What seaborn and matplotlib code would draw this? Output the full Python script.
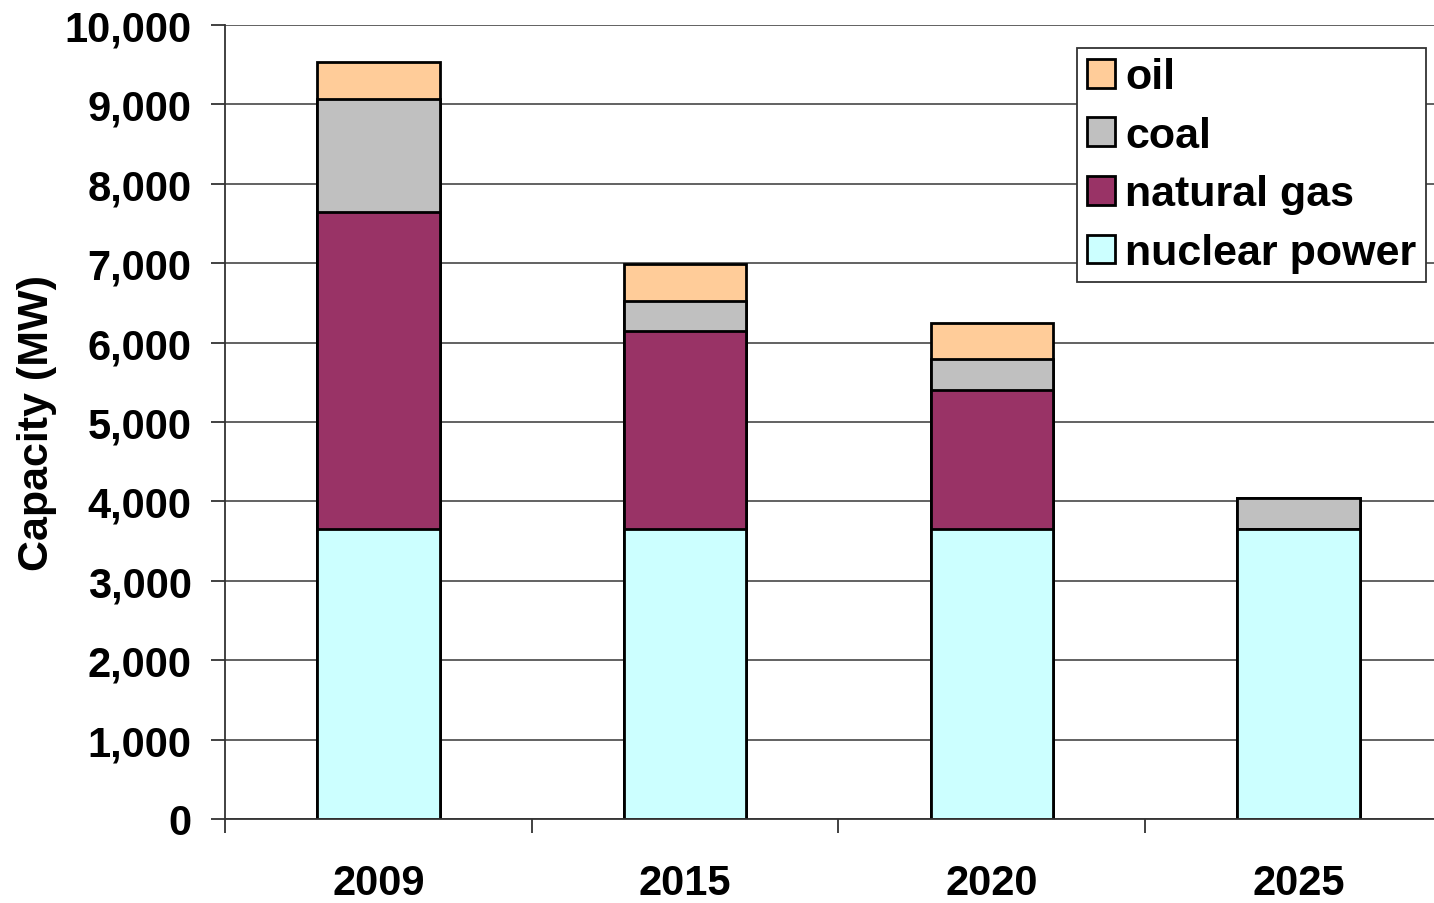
import numpy as np
import pandas as pd
import matplotlib
matplotlib.use("Agg")
import matplotlib.pyplot as plt
from matplotlib.ticker import FuncFormatter, FixedLocator
import seaborn as sns

# data (MW)
years = ['2009', '2015', '2020', '2025']
nuclear = [3650, 3650, 3650, 3650]
natural_gas = [4000, 2500, 1750, 0]
coal = [1420, 380, 390, 390]
oil = [465, 465, 455, 0]

series = ['nuclear power', 'natural gas', 'coal', 'oil']
colors = {'nuclear power': '#CCFFFF', 'natural gas': '#993366',
          'coal': '#C0C0C0', 'oil': '#FFCC99'}

df = pd.DataFrame({'year': years, 'nuclear power': nuclear,
                   'natural gas': natural_gas, 'coal': coal, 'oil': oil})

sns.set_theme(style="white")
plt.rcParams['font.family'] = ['Liberation Sans', 'DejaVu Sans']
plt.rcParams['font.weight'] = 'bold'
plt.rcParams['text.color'] = 'black'
plt.rcParams['axes.labelcolor'] = 'black'
plt.rcParams['xtick.color'] = 'black'
plt.rcParams['ytick.color'] = 'black'

fig = plt.figure(figsize=(14.34, 9.04), dpi=100)
ax = fig.add_axes([225 / 1434, 1 - 820 / 904, 1227 / 1434, 794 / 904])

# stacked bars: draw cumulative totals from the top segment down
cum = df[series].cumsum(axis=1)
for s in reversed(series):
    sns.barplot(x=df['year'], y=cum[s], color=colors[s], width=0.4,
                edgecolor='black', linewidth=2, saturation=1, ax=ax, label=s)
handles, labels = ax.get_legend_handles_labels()
if ax.get_legend() is not None:
    ax.get_legend().remove()

ax.set_ylim(0, 10000)
ax.set_xlim(-0.5, 3.5)
ax.yaxis.set_major_locator(FixedLocator(np.arange(0, 10001, 1000)))
ax.yaxis.set_major_formatter(FuncFormatter(lambda v, p: f'{int(v):,}'))
ax.grid(axis='y', color='#555555', linewidth=1.3)
ax.set_axisbelow(True)

for sp in ['top', 'right']:
    ax.spines[sp].set_visible(False)
for sp in ['left', 'bottom']:
    ax.spines[sp].set_color('#333333')
    ax.spines[sp].set_linewidth(1.3)

ax.tick_params(axis='y', which='major', direction='out', length=10, width=1.3,
               color='#333333', labelsize=30, pad=14, left=True)
ax.tick_params(axis='x', which='major', length=0, labelsize=30, pad=32)
ax.set_xticks([-0.5, 0.5, 1.5, 2.5], minor=True)
ax.tick_params(axis='x', which='minor', direction='out', length=10, width=1.3,
               color='#333333', bottom=True)
for lab in ax.get_xticklabels() + ax.get_yticklabels():
    lab.set_fontweight('bold')

ax.set_xlabel('')
ax.set_ylabel('Capacity (MW)', fontsize=31, fontweight='bold')
ax.yaxis.set_label_coords(-0.137, 0.5)

leg = fig.legend(handles, labels, loc='upper right',
                 bbox_to_anchor=(1426 / 1434, 1 - 49 / 904),
                 prop={'size': 31, 'weight': 'bold'}, frameon=True,
                 fancybox=False, edgecolor='#333333', framealpha=1,
                 handlelength=0.65, handleheight=0.65, handletextpad=0.25,
                 labelspacing=0.43, borderpad=0.22, borderaxespad=0)
leg.get_frame().set_linewidth(1.3)

fig.savefig('out.png', dpi=100)
